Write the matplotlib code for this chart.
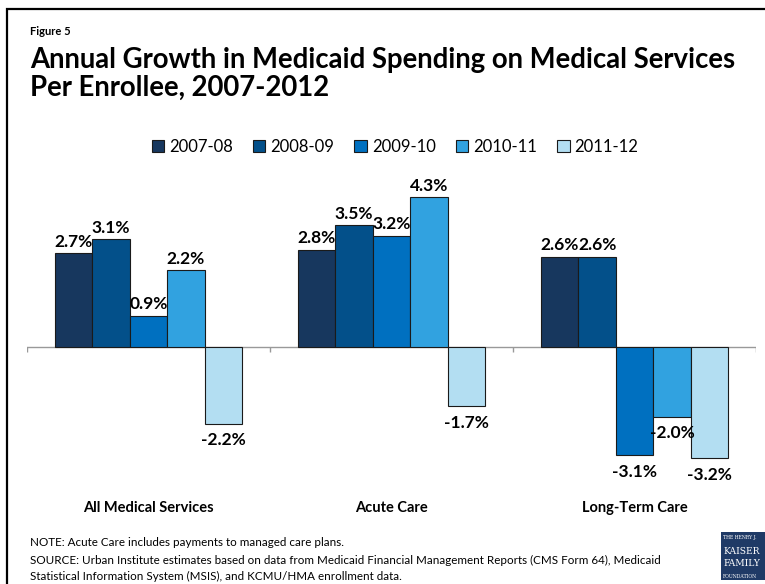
import matplotlib.pyplot as plt
import matplotlib.patches as mpatches
import numpy as np

plt.rcParams['font.family'] = ['Lato', 'DejaVu Sans']

categories = ["All Medical Services", "Acute Care", "Long-Term Care"]
years = ["2007-08", "2008-09", "2009-10", "2010-11", "2011-12"]
# growth (%) per year, one list per period, in category order
g0708 = [2.7, 2.8, 2.6]
g0809 = [3.1, 3.5, 2.6]
g0910 = [0.9, 3.2, -3.1]
g1011 = [2.2, 4.3, -2.0]
g1112 = [-2.2, -1.7, -3.2]
colors = ["#17375E", "#03508A", "#0070C0", "#31A2E0", "#B3DEF2"]

series = [g0708, g0809, g0910, g1011, g1112]

fig = plt.figure(figsize=(7.65, 5.84), dpi=100)

# outer frame (runs off right and bottom like the original slide)
fig.patches.append(mpatches.Rectangle((7 / 765, -0.1), 1.1, 1 - 9 / 584 + 0.1,
                                      transform=fig.transFigure, fill=False,
                                      edgecolor="black", linewidth=1.6))

fig.text(30 / 765, 1 - 35 / 584, "Figure 5", fontsize=8, fontweight="bold",
         va="baseline")
fig.text(30 / 765, 1 - 68 / 584,
         "Annual Growth in Medicaid Spending on Medical Services",
         fontsize=19.8, fontweight="bold", va="baseline")
fig.text(30 / 765, 1 - 96 / 584, "Per Enrollee, 2007-2012",
         fontsize=19.8, fontweight="bold", va="baseline")

ax = fig.add_axes([27 / 765, 1 - 514 / 584, 729 / 765, (514 - 173) / 584])
x = np.arange(len(categories))
w = 0.154
for j, vals in enumerate(series):
    pos = x + (j - 2) * w
    ax.bar(pos, vals, w, color=colors[j], edgecolor="#1a1a1a", linewidth=0.8,
           label=years[j], zorder=2)
    for xp, v in zip(pos, vals):
        if v >= 0:
            ax.text(xp, v + 0.1, f"{v:.1f}%", ha="center", va="bottom",
                    fontsize=12.5, fontweight="bold", zorder=3)
        else:
            ax.text(xp, v - 0.25, f"{v:.1f}%", ha="center", va="top",
                    fontsize=12.5, fontweight="bold", zorder=3)

ax.set_xlim(-0.5, 2.5)
ax.set_ylim(-4.8, 5.0)
ax.axhline(0, color="#999999", linewidth=1, zorder=1)
ax.vlines([-0.5, 0.5, 1.5, 2.5], -0.15, 0, color="#999999", linewidth=1)
for s in ax.spines.values():
    s.set_visible(False)
ax.set_xticks([])
ax.set_yticks([])
for xi, c in zip(x, categories):
    ax.text(xi, -4.63, c, ha="center", va="center", fontsize=10.5,
            fontweight="bold")

fig.legend(loc="center", bbox_to_anchor=(395 / 765, 1 - 147 / 584), ncol=5,
           frameon=False, fontsize=12, handlelength=0.75, handleheight=0.75,
           handletextpad=0.3, columnspacing=1.2)

fig.text(30 / 765, 1 - 543 / 584,
         "NOTE: Acute Care includes payments to managed care plans.",
         fontsize=8.4, va="center")
fig.text(30 / 765, 1 - 560 / 584,
         "SOURCE: Urban Institute estimates based on data from Medicaid Financial "
         "Management Reports (CMS Form 64), Medicaid",
         fontsize=8.4, va="center")
fig.text(30 / 765, 1 - 576 / 584,
         "Statistical Information System (MSIS), and KCMU/HMA enrollment data.",
         fontsize=8.4, va="center")

# logo box
fig.patches.append(mpatches.Rectangle((721 / 765, 1 - 580 / 584), 50 / 765, 48 / 584,
                                      transform=fig.transFigure,
                                      facecolor="#1F3A66", edgecolor="none"))
fig.text(723 / 765, 1 - 538 / 584, "THE HENRY J.", color="white", fontsize=3.3,
         family="DejaVu Serif", va="center")
fig.text(723 / 765, 1 - 551 / 584, "KAISER", color="white", fontsize=6.6,
         family="DejaVu Serif", va="center")
fig.text(723 / 765, 1 - 564 / 584, "FAMILY", color="white", fontsize=6.6,
         family="DejaVu Serif", va="center")
fig.text(723 / 765, 1 - 576 / 584, "FOUNDATION", color="white", fontsize=3.3,
         family="DejaVu Serif", va="center")

fig.savefig("out.png", dpi=100)
